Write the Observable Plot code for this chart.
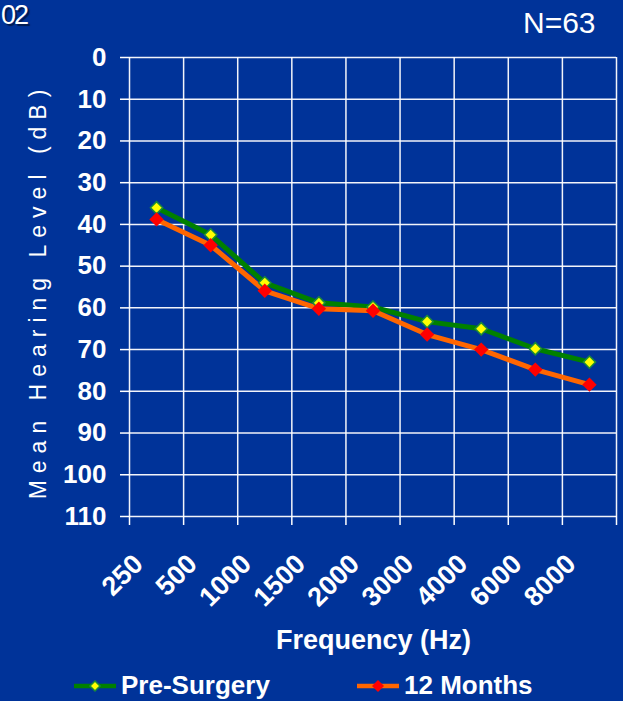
<!DOCTYPE html>
<html>
<head>
<meta charset="utf-8">
<script src="https://cdn.jsdelivr.net/npm/d3@7"></script>
<script src="https://cdn.jsdelivr.net/npm/@observablehq/plot@0.6"></script>
<style>
  html, body { margin: 0; padding: 0; background: #003399; }
  #wrap { position: relative; width: 623px; height: 701px; overflow: hidden; background: #003399;
    font-family: "Liberation Sans", Arial, sans-serif; color: white; }
  .abs { position: absolute; white-space: nowrap; }
</style>
</head>
<body>
<div id="wrap"></div>
<script>
const freqs = ["250","500","1000","1500","2000","3000","4000","6000","8000"];
const preSurgery = [36, 42.5, 54, 58.8, 59.8, 63.3, 65, 69.8, 73];
const months12 = [38.8, 45, 55.9, 60.2, 60.7, 66.4, 70, 74.8, 78.4];
const yTicks = [0,10,20,30,40,50,60,70,80,90,100,110];
const seriesNames = ["Pre-Surgery", "12 Months"];

const rows = [];
freqs.forEach((f, i) => {
  rows.push({i, freq: f, value: preSurgery[i], series: seriesNames[0]});
  rows.push({i, freq: f, value: months12[i], series: seriesNames[1]});
});
const pre = rows.filter(d => d.series === seriesNames[0]);
const m12 = rows.filter(d => d.series === seriesNames[1]);
const bold = {fontWeight: "bold", fill: "white"};

const chart = Plot.plot({
  width: 623,
  height: 701,
  marginTop: 57,
  marginBottom: 185,
  marginLeft: 129,
  marginRight: 7,
  style: {background: "#003399", color: "white", fontFamily: "Liberation Sans, Arial, sans-serif", overflow: "visible"},
  x: {type: "linear", domain: [0, freqs.length], axis: null},
  y: {domain: [0, 110], reverse: true, axis: null},
  marks: [
    Plot.gridY(yTicks, {stroke: "white", strokeOpacity: 0.95, strokeWidth: 1.5}),
    Plot.gridX(d3.range(0, freqs.length + 1), {stroke: "white", strokeOpacity: 0.95, strokeWidth: 1.5}),
    Plot.axisY(yTicks, {anchor: "left", tickSize: 9, tickPadding: 14, stroke: "white", strokeWidth: 1.5,
      fontSize: 26, fontWeight: "bold", fill: "white", label: null}),
    Plot.axisX(d3.range(0, freqs.length + 1), {anchor: "bottom", tickSize: 9, stroke: "white", strokeWidth: 1.5,
      tickFormat: () => "", label: null}),
    Plot.text(freqs, {x: (d, i) => i + 0.5, frameAnchor: "bottom", text: d => d, rotate: -45,
      textAnchor: "end", dx: -12, dy: 49, fontSize: 27, ...bold}),
    Plot.text(["Frequency (Hz)"], {frameAnchor: "bottom", dx: -(129 + (616 - 129) / 2 - 373), dy: 132, fontSize: 27, ...bold}),
    Plot.line(pre, {x: d => d.i + 0.5, y: "value", stroke: "#008000", strokeWidth: 5}),
    Plot.line(m12, {x: d => d.i + 0.5, y: "value", stroke: "#ff6600", strokeWidth: 5}),
    Plot.dot(pre, {x: d => d.i + 0.5, y: "value", symbol: "diamond2", r: 5.5, fill: "#ffff00", stroke: "#1a8a3a", strokeWidth: 1.5}),
    Plot.dot(m12, {x: d => d.i + 0.5, y: "value", symbol: "diamond2", r: 6.5, fill: "#ff0000", stroke: "none"})
  ]
});

const wrap = document.getElementById("wrap");
wrap.appendChild(chart);
chart.style.position = "absolute";
chart.style.left = "0px";
chart.style.top = "0px";

function addText(txt, css) {
  const d = document.createElement("div");
  d.className = "abs";
  d.textContent = txt;
  Object.assign(d.style, css);
  wrap.appendChild(d);
  return d;
}
// fragment of slide title at the top-left
addText("02", {left: "1px", top: "0px", fontSize: "27px", lineHeight: "30px", letterSpacing: "-2px", textShadow: "2px 2px 1px #001a4d"});
addText("N=63", {left: "523px", top: "6px", fontSize: "30px"});
// y-axis title
addText("Mean Hearing Level (dB)", {left: "38px", top: "291px", fontSize: "23px", letterSpacing: "7px",
  transform: "translate(-50%, -50%) rotate(-90deg)"});

// legend
function legendItem(x, label, stroke, fill, glow, r) {
  const ns = "http://www.w3.org/2000/svg";
  const s = document.createElementNS(ns, "svg");
  s.setAttribute("width", 44); s.setAttribute("height", 20);
  s.style.position = "absolute"; s.style.left = x + "px"; s.style.top = "676px";
  const l = document.createElementNS(ns, "line");
  l.setAttribute("x1", 0); l.setAttribute("x2", 42); l.setAttribute("y1", 10); l.setAttribute("y2", 10);
  l.setAttribute("stroke", stroke); l.setAttribute("stroke-width", 4.5);
  s.appendChild(l);
  const p = document.createElementNS(ns, "path");
  const cx = 21, cy = 10;
  p.setAttribute("d", `M${cx},${cy - r}L${cx + r},${cy}L${cx},${cy + r}L${cx - r},${cy}Z`);
  p.setAttribute("fill", fill);
  if (glow) { p.setAttribute("stroke", glow); p.setAttribute("stroke-width", 1.5); }
  s.appendChild(p);
  wrap.appendChild(s);
  addText(label, {left: (x + 47) + "px", top: "670px", fontSize: "26px", fontWeight: "bold"});
}
legendItem(74, seriesNames[0], "#008000", "#ffff00", "#1a8a3a", 5);
legendItem(357, seriesNames[1], "#ff6600", "#ff0000", null, 6);
</script>
</body>
</html>
